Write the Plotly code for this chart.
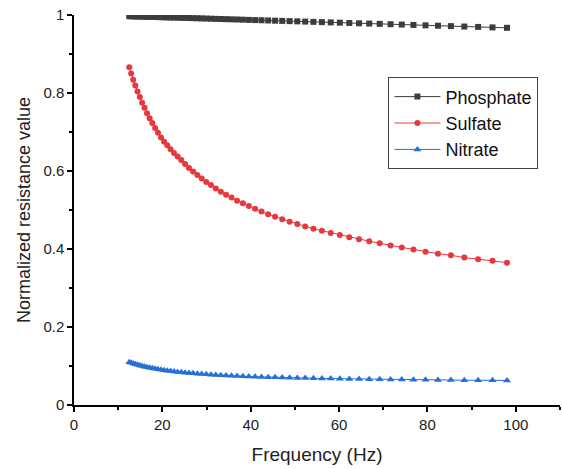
import plotly.graph_objects as go

freq = [12.50, 12.94, 13.40, 13.88, 14.38, 14.89, 15.42, 15.96, 16.53, 17.12,
        17.73, 18.36, 19.01, 19.69, 20.39, 21.11, 21.86, 22.64, 23.44, 24.28,
        25.14, 26.03, 26.96, 27.92, 28.91, 29.94, 31.00, 32.10, 33.24, 34.42,
        35.65, 36.91, 38.22, 39.58, 40.99, 42.44, 43.95, 45.51, 47.13, 48.80,
        50.54, 52.33, 54.19, 56.11, 58.11, 60.17, 62.31, 64.52, 66.82, 69.19,
        71.65, 74.19, 76.83, 79.56, 82.38, 85.31, 88.34, 91.47, 94.72, 98.00]

phosphate = [0.9970, 0.9968, 0.9967, 0.9965, 0.9963, 0.9962, 0.9960, 0.9958, 0.9956, 0.9954,
             0.9952, 0.9949, 0.9947, 0.9945, 0.9942, 0.9940, 0.9937, 0.9935, 0.9932, 0.9929,
             0.9926, 0.9923, 0.9919, 0.9916, 0.9913, 0.9909, 0.9905, 0.9901, 0.9897, 0.9893,
             0.9889, 0.9885, 0.9880, 0.9875, 0.9870, 0.9865, 0.9860, 0.9854, 0.9849, 0.9843,
             0.9837, 0.9831, 0.9824, 0.9817, 0.9810, 0.9803, 0.9796, 0.9788, 0.9780, 0.9772,
             0.9763, 0.9754, 0.9745, 0.9735, 0.9725, 0.9715, 0.9704, 0.9694, 0.9682, 0.9671]

sulfate = [0.866, 0.850, 0.834, 0.819, 0.804, 0.790, 0.775, 0.762, 0.748, 0.735,
           0.723, 0.710, 0.698, 0.686, 0.675, 0.666, 0.656, 0.646, 0.637, 0.628,
           0.618, 0.608, 0.599, 0.590, 0.581, 0.572, 0.564, 0.555, 0.547, 0.539,
           0.532, 0.524, 0.517, 0.510, 0.503, 0.496, 0.489, 0.483, 0.476, 0.470,
           0.464, 0.458, 0.452, 0.447, 0.441, 0.436, 0.430, 0.425, 0.420, 0.415,
           0.409, 0.404, 0.399, 0.393, 0.388, 0.384, 0.378, 0.374, 0.370, 0.365]

nitrate = [0.1099, 0.1081, 0.1063, 0.1046, 0.1029, 0.1013, 0.0997, 0.0982, 0.0968, 0.0954,
           0.0941, 0.0927, 0.0915, 0.0903, 0.0891, 0.0880, 0.0869, 0.0858, 0.0848, 0.0838,
           0.0829, 0.0820, 0.0811, 0.0802, 0.0794, 0.0786, 0.0778, 0.0771, 0.0763, 0.0757,
           0.0750, 0.0743, 0.0737, 0.0731, 0.0725, 0.0720, 0.0714, 0.0709, 0.0704, 0.0699,
           0.0694, 0.0690, 0.0685, 0.0681, 0.0677, 0.0673, 0.0669, 0.0665, 0.0662, 0.0658,
           0.0655, 0.0652, 0.0649, 0.0646, 0.0643, 0.0640, 0.0637, 0.0635, 0.0632, 0.0630]

series_names = ["Phosphate", "Sulfate", "Nitrate"]
series_values = [phosphate, sulfate, nitrate]
colors = ["#3c3c3c", "#e8383d", "#2470d8"]
symbols = ["square", "circle", "triangle-up"]
sizes = [6, 6, 7]

fig = go.Figure()
for name, vals, c, s, sz in zip(series_names, series_values, colors, symbols, sizes):
    fig.add_trace(go.Scatter(
        x=freq, y=vals, name=name, mode="lines+markers",
        line=dict(color=c, width=1),
        marker=dict(symbol=s, size=sz, color=c, line=dict(width=0)),
    ))

font_family = "Liberation Sans, Arial, sans-serif"
axis_common = dict(
    showline=True, linecolor="black", linewidth=1.5, mirror=False,
    showgrid=False, zeroline=False,
    ticks="outside", ticklen=5, tickwidth=1.5, tickcolor="black",
    tickfont=dict(family=font_family, size=15, color="#222"),
)

fig.update_layout(
    width=562, height=469,
    margin=dict(l=74, r=2, t=15, b=64),
    paper_bgcolor="white", plot_bgcolor="white",
    font=dict(family=font_family, color="#222"),
    legend=dict(
        x=0.647, y=0.840, xanchor="left", yanchor="top",
        bordercolor="#444", borderwidth=1, bgcolor="white",
        font=dict(family=font_family, size=18, color="#111"),
        tracegroupgap=0, itemwidth=46,
    ),
    xaxis=dict(
        range=[0, 110], tickvals=[0, 20, 40, 60, 80, 100],
        ticktext=["0", "20", "40", "60", "80", "100"],
        minor=dict(dtick=10, ticks="outside", ticklen=3, tickwidth=1.5, tickcolor="black"),
        title=dict(text="Frequency (Hz)", font=dict(family=font_family, size=19, color="#222"), standoff=16),
        **axis_common,
    ),
    yaxis=dict(
        range=[0, 1], tickvals=[0, 0.2, 0.4, 0.6, 0.8, 1.0],
        ticktext=["0", "0.2", "0.4", "0.6", "0.8", "1"],
        minor=dict(dtick=0.1, ticks="outside", ticklen=3, tickwidth=1.5, tickcolor="black"),
        title=dict(text="Normalized resistance value", font=dict(family=font_family, size=18, color="#222"), standoff=8),
        **axis_common,
    ),
)

fig.write_html("out.html")
